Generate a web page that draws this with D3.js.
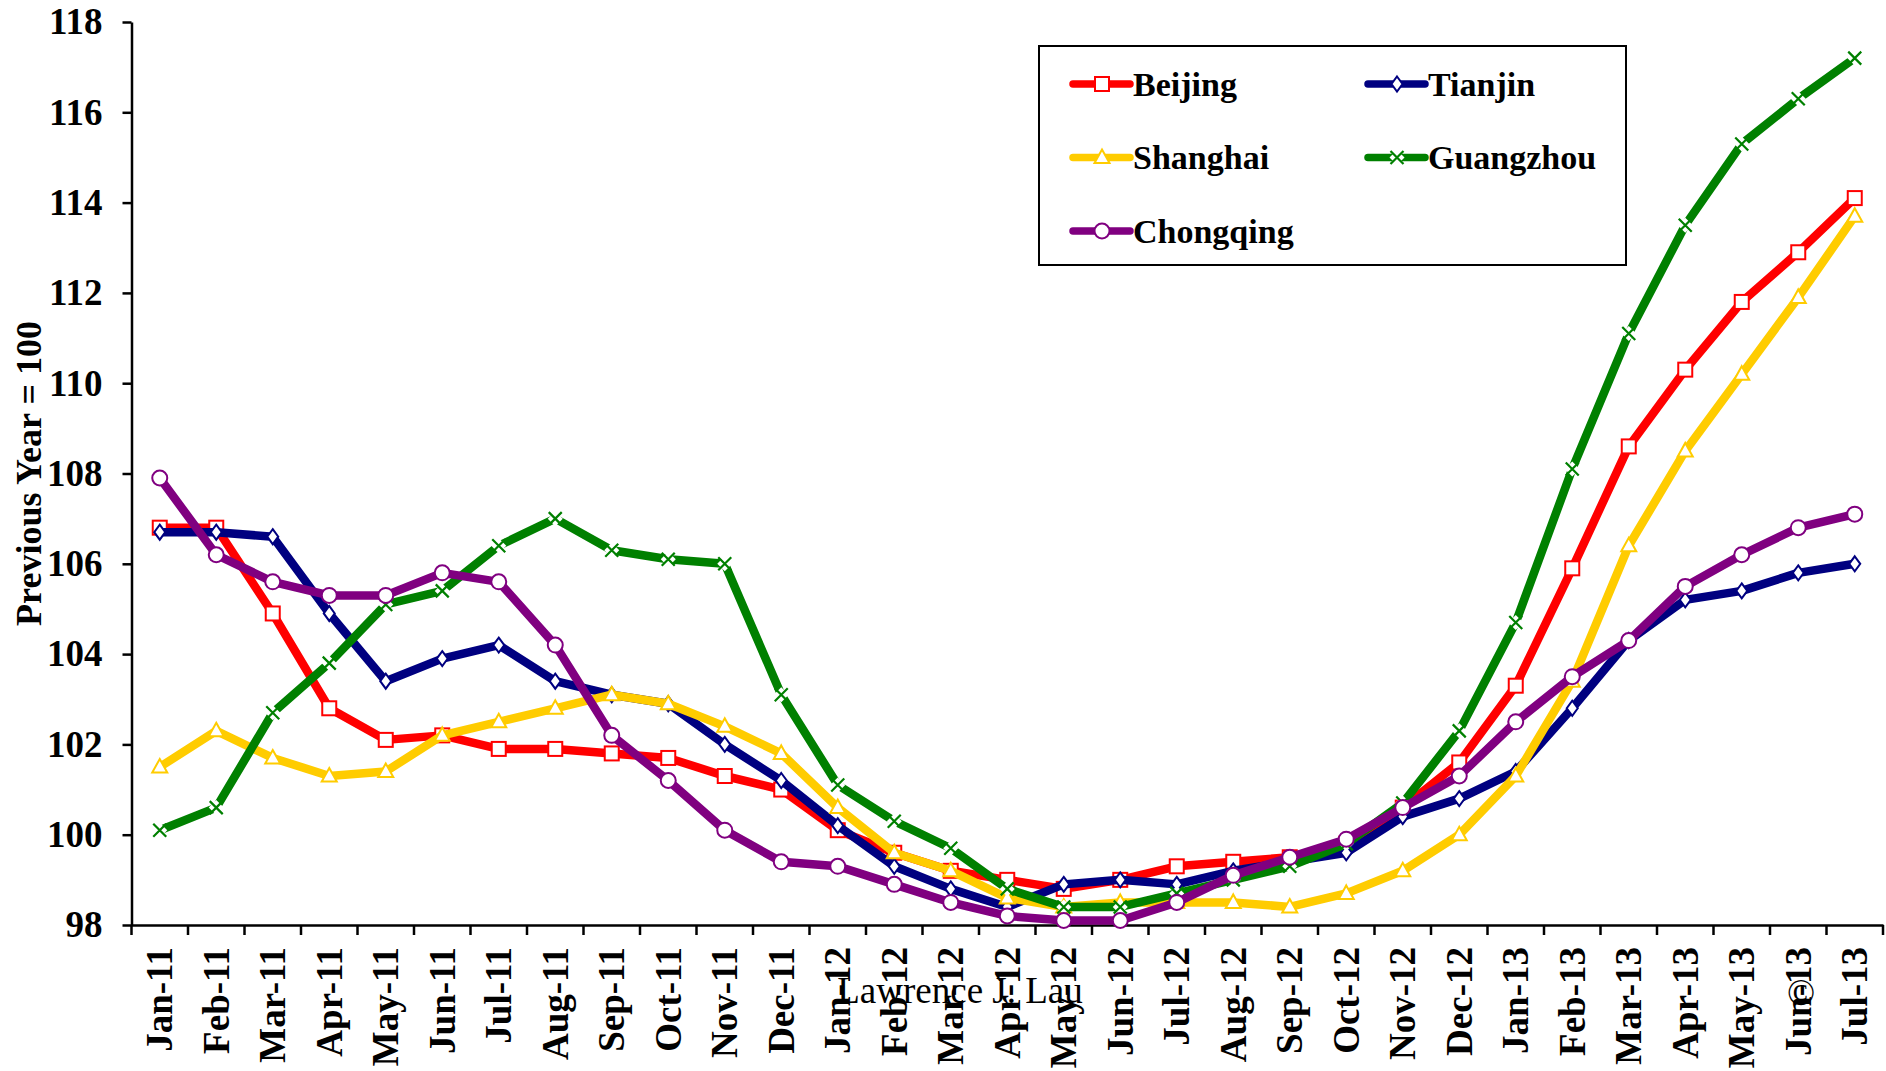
<!DOCTYPE html>
<html>
<head>
<meta charset="utf-8">
<script src="https://cdn.jsdelivr.net/npm/d3@7"></script>
<style>
  body { margin: 0; background: #fff; }
  text { font-family: "Liberation Serif", "Times New Roman", serif; }
</style>
</head>
<body>
<svg width="1886" height="1071"></svg>
<script>
// monthly housing price index, previous year = 100
var months = ["Jan-11","Feb-11","Mar-11","Apr-11","May-11","Jun-11","Jul-11","Aug-11","Sep-11","Oct-11","Nov-11","Dec-11",
              "Jan-12","Feb-12","Mar-12","Apr-12","May-12","Jun-12","Jul-12","Aug-12","Sep-12","Oct-12","Nov-12","Dec-12",
              "Jan-13","Feb-13","Mar-13","Apr-13","May-13","Jun-13","Jul-13"];

var beijing   = [106.8,106.8,104.9,102.8,102.1,102.2,101.9,101.9,101.8,101.7,101.3,101.0,
                 100.1,99.6,99.2,99.0,98.8,99.0,99.3,99.4,99.5,99.8,100.6,101.6,
                 103.3,105.9,108.6,110.3,111.8,112.9,114.1];
var tianjin   = [106.7,106.7,106.6,104.9,103.4,103.9,104.2,103.4,103.1,102.9,102.0,101.2,
                 100.2,99.3,98.8,98.4,98.9,99.0,98.9,99.2,99.4,99.6,100.4,100.8,
                 101.4,102.8,104.3,105.2,105.4,105.8,106.0];
var shanghai  = [101.5,102.3,101.7,101.3,101.4,102.2,102.5,102.8,103.1,102.9,102.4,101.8,
                 100.6,99.6,99.2,98.6,98.4,98.5,98.5,98.5,98.4,98.7,99.2,100.0,
                 101.3,103.4,106.4,108.5,110.2,111.9,113.7];
var guangzhou = [100.1,100.6,102.7,103.8,105.1,105.4,106.4,107.0,106.3,106.1,106.0,103.1,
                 101.1,100.3,99.7,98.8,98.4,98.4,98.7,99.0,99.3,99.8,100.7,102.3,
                 104.7,108.1,111.1,113.5,115.3,116.3,117.2];
var chongqing = [107.9,106.2,105.6,105.3,105.3,105.8,105.6,104.2,102.2,101.2,100.1,99.4,
                 99.3,98.9,98.5,98.2,98.1,98.1,98.5,99.1,99.5,99.9,100.6,101.3,
                 102.5,103.5,104.3,105.5,106.2,106.8,107.1];

var yTicks = [98,100,102,104,106,108,110,112,114,116,118];

var series = [
  {name: "Beijing",   values: beijing,   color: "#FF0000", symbol: "square"},
  {name: "Tianjin",   values: tianjin,   color: "#000080", symbol: "diamond"},
  {name: "Shanghai",  values: shanghai,  color: "#FFCC00", symbol: "triangle"},
  {name: "Guangzhou", values: guangzhou, color: "#008000", symbol: "cross"},
  {name: "Chongqing", values: chongqing, color: "#800080", symbol: "circle"}
];

var svg = d3.select("svg"),
    margin = {top: 22, right: 3, bottom: 146, left: 131.5},
    width = +svg.attr("width") - margin.left - margin.right,
    height = +svg.attr("height") - margin.top - margin.bottom;

var g = svg.append("g")
    .attr("transform", "translate(" + margin.left + "," + margin.top + ")");

var x = d3.scaleBand().domain(months).range([0, width]),
    y = d3.scaleLinear().domain([98, 118]).range([height, 0]);

function cx(i) { return x(months[i]) + x.bandwidth() / 2; }

// y axis
var yAxis = g.append("g")
    .call(d3.axisLeft(y).tickValues(yTicks).tickSize(9).tickPadding(20).tickSizeOuter(0)
          .tickFormat(d3.format("d")));
yAxis.select(".domain").attr("stroke-width", 2.5);
yAxis.selectAll(".tick line").attr("stroke-width", 2.5);
yAxis.selectAll("text")
    .attr("font-family", "Liberation Serif, Times New Roman, serif")
    .attr("font-size", 37).attr("font-weight", "bold").attr("fill", "#000");

// x axis, labels at band centres, ticks at band edges
var xAxis = g.append("g")
    .attr("transform", "translate(0," + height + ")")
    .call(d3.axisBottom(x).tickSize(0).tickSizeOuter(0));
xAxis.select(".domain").attr("stroke-width", 2.5);
xAxis.selectAll("text")
    .attr("font-family", "Liberation Serif, Times New Roman, serif")
    .attr("font-size", 37).attr("font-weight", "bold").attr("fill", "#000")
    .attr("transform", "rotate(-90)")
    .attr("text-anchor", "end")
    .attr("x", -22).attr("y", 0).attr("dy", "0.34em");
xAxis.selectAll(".edge")
    .data(d3.range(months.length + 1))
    .enter().append("line")
      .attr("class", "edge")
      .attr("x1", function(i) { return i * x.step(); })
      .attr("x2", function(i) { return i * x.step(); })
      .attr("y1", 0).attr("y2", 10)
      .attr("stroke", "#000").attr("stroke-width", 2.5);

// y title
svg.append("text")
    .attr("transform", "translate(28," + (margin.top + height / 2) + ") rotate(-90)")
    .attr("text-anchor", "middle")
    .attr("dy", "0.35em")
    .attr("font-size", 36).attr("font-weight", "bold")
    .text("Previous Year = 100");

function drawMarker(sel, s) {
  if (s.symbol == "square") {
    sel.append("rect").attr("x", -7).attr("y", -7).attr("width", 14).attr("height", 14)
      .attr("fill", "#fff").attr("stroke", s.color).attr("stroke-width", 2);
  } else if (s.symbol == "diamond") {
    sel.append("path").attr("d", "M0,-7.5L5.5,0L0,7.5L-5.5,0Z")
      .attr("fill", "#fff").attr("stroke", s.color).attr("stroke-width", 2);
  } else if (s.symbol == "triangle") {
    sel.append("path").attr("d", "M0,-8L7.5,5.5L-7.5,5.5Z")
      .attr("fill", "#fff").attr("stroke", s.color).attr("stroke-width", 2);
  } else if (s.symbol == "cross") {
    sel.append("path").attr("d", "M0,-7.5L7.5,0L0,7.5L-7.5,0Z").attr("fill", "#fff");
    sel.append("path").attr("d", "M-6.5,-6.5L6.5,6.5M-6.5,6.5L6.5,-6.5")
      .attr("fill", "none").attr("stroke", s.color).attr("stroke-width", 2.2);
  } else {
    sel.append("circle").attr("r", 7.5)
      .attr("fill", "#fff").attr("stroke", s.color).attr("stroke-width", 2);
  }
}

var line = d3.line()
    .x(function(d, i) { return cx(i); })
    .y(function(d) { return y(d); });

series.forEach(function(s) {
  var sg = g.append("g").attr("class", "series");
  sg.append("path")
      .datum(s.values)
      .attr("d", line)
      .attr("fill", "none")
      .attr("stroke", s.color)
      .attr("stroke-width", 8.5)
      .attr("stroke-linejoin", "round");
  sg.selectAll(".pt")
    .data(s.values)
    .enter().append("g")
      .attr("class", "pt")
      .attr("transform", function(d, i) { return "translate(" + cx(i) + "," + y(d) + ")"; })
      .each(function() { drawMarker(d3.select(this), s); });
});

// legend
var legend = svg.append("g").attr("transform", "translate(1039,46)");
legend.append("rect")
    .attr("width", 587).attr("height", 219)
    .attr("fill", "#fff").attr("stroke", "#000").attr("stroke-width", 2);

series.forEach(function(s, i) {
  var col = i % 2, row = Math.floor(i / 2);
  var item = legend.append("g")
      .attr("transform", "translate(" + (34 + col * 295) + "," + (38 + row * 73.5) + ")");
  item.append("line")
      .attr("x1", 0).attr("x2", 57).attr("y1", 0).attr("y2", 0)
      .attr("stroke", s.color).attr("stroke-width", 7.5).attr("stroke-linecap", "round");
  drawMarker(item.append("g").attr("transform", "translate(29,0)"), s);
  item.append("text")
      .attr("x", 60).attr("dy", "0.34em")
      .attr("font-size", 34).attr("font-weight", "bold")
      .text(s.name);
});

// author note and copyright mark
svg.append("text")
    .attr("x", 960).attr("y", 1003)
    .attr("text-anchor", "middle")
    .attr("font-size", 37)
    .text("Lawrence J. Lau");
svg.append("text")
    .attr("x", 1801).attr("y", 1005)
    .attr("text-anchor", "middle")
    .attr("font-size", 37)
    .text("\u00A9");
</script>
</body>
</html>
